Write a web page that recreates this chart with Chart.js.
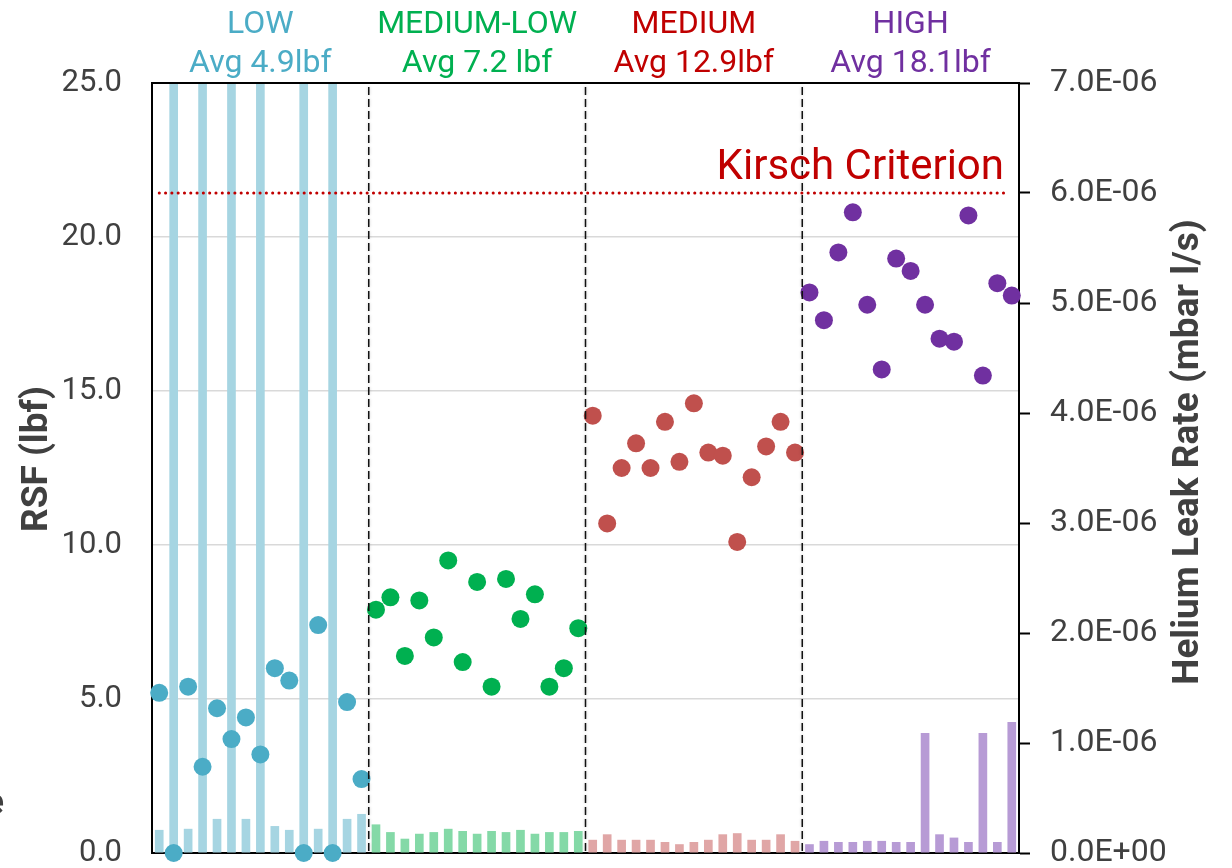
<!DOCTYPE html>
<html>
<head>
<meta charset="utf-8">
<script src="https://cdn.jsdelivr.net/npm/chart.js@4.4.1/dist/chart.umd.min.js"></script>
<style>
  html, body { margin: 0; padding: 0; background: #ffffff; }
  #wrap { width: 1232px; height: 868px; position: relative; }
</style>
</head>
<body>
<div id="wrap"><canvas id="c" width="1232" height="868"></canvas></div>
<script>
// Seal groups and their summary labels
const groupNames = ['LOW', 'MEDIUM-LOW', 'MEDIUM', 'HIGH'];
const groupAvgText = ['Avg 4.9lbf', 'Avg 7.2 lbf', 'Avg 12.9lbf', 'Avg 18.1lbf'];
const groupTextColors = ['#4BACC6', '#00B050', '#C00000', '#7030A0'];
const groupDotColors = ['#4BACC6', '#00B050', '#C0504D', '#7030A0'];
const groupBarColors = ['#A6D5E2', '#84D9A7', '#E0A6A6', '#B79BD5'];

// Residual seal force per sample (lbf)
const rsfLow     = [5.2, 0.0, 5.4, 2.8, 4.7, 3.7, 4.4, 3.2, 6.0, 5.6, 0.0, 7.4, 0.0, 4.9, 2.4];
const rsfMedLow  = [7.9, 8.3, 6.4, 8.2, 7.0, 9.5, 6.2, 8.8, 5.4, 8.9, 7.6, 8.4, 5.4, 6.0, 7.3];
const rsfMedium  = [14.2, 10.7, 12.5, 13.3, 12.5, 14.0, 12.7, 14.6, 13.0, 12.9, 10.1, 12.2, 13.2, 14.0, 13.0];
const rsfHigh    = [18.2, 17.3, 19.5, 20.8, 17.8, 15.7, 19.3, 18.9, 17.8, 16.7, 16.6, 20.7, 15.5, 18.5, 18.1];

// Helium leak rate per sample (mbar l/s); failed seals run far off scale
const leakLow    = [0.21e-6, 2.0e-5, 0.22e-6, 2.0e-5, 0.31e-6, 2.0e-5, 0.31e-6, 2.0e-5, 0.245e-6, 0.21e-6, 2.0e-5, 0.22e-6, 2.0e-5, 0.31e-6, 0.355e-6];
const leakMedLow = [0.26e-6, 0.19e-6, 0.13e-6, 0.175e-6, 0.19e-6, 0.22e-6, 0.20e-6, 0.175e-6, 0.20e-6, 0.19e-6, 0.21e-6, 0.175e-6, 0.19e-6, 0.19e-6, 0.20e-6];
const leakMedium = [0.12e-6, 0.17e-6, 0.12e-6, 0.12e-6, 0.12e-6, 0.10e-6, 0.08e-6, 0.10e-6, 0.12e-6, 0.17e-6, 0.18e-6, 0.12e-6, 0.12e-6, 0.17e-6, 0.11e-6];
const leakHigh   = [0.08e-6, 0.11e-6, 0.10e-6, 0.10e-6, 0.11e-6, 0.11e-6, 0.10e-6, 0.10e-6, 1.09e-6, 0.17e-6, 0.14e-6, 0.10e-6, 1.09e-6, 0.10e-6, 1.19e-6];

// Axis ranges
const rsfTicks = [0, 5, 10, 15, 20, 25];
const leakTicks = [0, 1e-6, 2e-6, 3e-6, 4e-6, 5e-6, 6e-6, 7e-6];
const kirschLimit = 6.0e-6;

const rsfGroups = [rsfLow, rsfMedLow, rsfMedium, rsfHigh];
const leakGroups = [leakLow, leakMedLow, leakMedium, leakHigh];
const rsfAll = rsfGroups.flat();
const leakAll = leakGroups.flat();
const sampleLabels = rsfAll.map((_, i) => String(i + 1));
const groupSize = rsfLow.length;
const dotColors = rsfGroups.flatMap((g, gi) => g.map(() => groupDotColors[gi]));
const barColors = leakGroups.flatMap((g, gi) => g.map(() => groupBarColors[gi]));

function sciLabel(v) {
  if (Math.abs(v) < 1e-12) return '0.0E+00';
  const e = Math.floor(Math.log10(Math.abs(v)) + 1e-6);
  const m = v / Math.pow(10, e);
  return m.toFixed(1) + 'E' + (e < 0 ? '-' : '+') + String(Math.abs(e)).padStart(2, '0');
}

const FONT = 'Roboto, "Open Sans", sans-serif';
const TEXT_GRAY = '#404040';

// Frame line under the data (bottom edge)
const frameUnder = {
  id: 'frameUnder',
  beforeDatasetsDraw(chart) {
    const { ctx, chartArea: a } = chart;
    ctx.save();
    ctx.strokeStyle = '#000';
    ctx.lineWidth = 2;
    ctx.beginPath();
    ctx.moveTo(a.left - 1, a.bottom);
    ctx.lineTo(a.right + 1, a.bottom);
    ctx.stroke();
    ctx.restore();
  }
};

// Group separators, top edge, Kirsch limit and text annotations
const overlay = {
  id: 'overlay',
  afterDatasetsDraw(chart) {
    const { ctx, chartArea: a, scales } = chart;
    const xs = scales.x, y1 = scales.y1;
    ctx.save();

    // top edge
    ctx.strokeStyle = '#000';
    ctx.lineWidth = 2;
    ctx.beginPath();
    ctx.moveTo(a.left - 1, a.top);
    ctx.lineTo(a.right + 1, a.top);
    ctx.stroke();

    // dashed separators between groups
    ctx.save();
    ctx.setLineDash([8, 4]);
    ctx.lineWidth = 1.5;
    ctx.strokeStyle = '#111';
    ctx.shadowColor = 'rgba(0,0,0,0.25)';
    ctx.shadowBlur = 3;
    for (let g = 1; g < groupNames.length; g++) {
      const i = g * groupSize;
      const x = (xs.getPixelForValue(i - 1) + xs.getPixelForValue(i)) / 2;
      ctx.beginPath();
      ctx.moveTo(x, a.top + 4);
      ctx.lineTo(x, a.bottom);
      ctx.stroke();
    }
    ctx.restore();

    // Kirsch criterion limit
    const yk = y1.getPixelForValue(kirschLimit);
    ctx.save();
    ctx.strokeStyle = '#C00000';
    ctx.lineWidth = 3;
    ctx.lineCap = 'round';
    ctx.setLineDash([0.1, 6.2]);
    ctx.beginPath();
    ctx.moveTo(xs.getPixelForValue(0), yk);
    ctx.lineTo(a.right - 14, yk);
    ctx.stroke();
    ctx.restore();

    ctx.fillStyle = '#C00000';
    ctx.font = '42px ' + FONT;
    ctx.textAlign = 'right';
    ctx.textBaseline = 'alphabetic';
    ctx.fillText('Kirsch Criterion', a.right - 15, yk - 14);

    // group headings
    ctx.font = '32px ' + FONT;
    ctx.textAlign = 'center';
    for (let g = 0; g < groupNames.length; g++) {
      const x = (xs.getPixelForValue(g * groupSize) + xs.getPixelForValue(g * groupSize + groupSize - 1)) / 2;
      ctx.fillStyle = groupTextColors[g];
      ctx.fillText(groupNames[g], x, 33);
      ctx.fillText(groupAvgText[g], x, 72);
    }

    // axis titles, both reading bottom to top
    ctx.fillStyle = TEXT_GRAY;
    ctx.font = 'bold 37px ' + FONT;
    ctx.textBaseline = 'middle';
    ctx.save();
    ctx.translate(38, 459);
    ctx.rotate(-Math.PI / 2);
    ctx.fillText('RSF (lbf)', 0, 0);
    ctx.restore();
    ctx.save();
    ctx.translate(1189, 452);
    ctx.rotate(-Math.PI / 2);
    ctx.fillText('Helium Leak Rate (mbar l/s)', 0, 0);
    ctx.restore();

    // clipped glyph at the left edge
    ctx.textAlign = 'right';
    ctx.textBaseline = 'alphabetic';
    ctx.fillText('e', 4, 814);

    ctx.restore();
  }
};

function pinPadding(scale) {
  scale.paddingTop = 0;
  scale.paddingBottom = 0;
}

new Chart(document.getElementById('c'), {
  data: {
    labels: sampleLabels,
    datasets: [
      {
        type: 'line',
        label: 'RSF (lbf)',
        data: rsfAll,
        yAxisID: 'y',
        showLine: false,
        pointRadius: 9,
        pointHoverRadius: 9,
        pointBorderWidth: 0,
        pointBackgroundColor: dotColors,
        pointBorderColor: dotColors,
        clip: false,
        order: 1
      },
      {
        type: 'bar',
        label: 'Helium Leak Rate (mbar l/s)',
        data: leakAll,
        yAxisID: 'y1',
        backgroundColor: barColors,
        borderWidth: 0,
        categoryPercentage: 1.0,
        barPercentage: 0.6,
        order: 2
      }
    ]
  },
  options: {
    responsive: false,
    animation: false,
    events: [],
    layout: { padding: { top: 83, bottom: 15, left: 0, right: 0 } },
    plugins: {
      legend: { display: false },
      tooltip: { enabled: false },
      title: { display: false }
    },
    scales: {
      x: {
        type: 'category',
        display: false,
        offset: true,
        grid: { display: false }
      },
      y: {
        position: 'left',
        min: rsfTicks[0],
        max: rsfTicks[rsfTicks.length - 1],
        afterBuildTicks(scale) { scale.ticks = rsfTicks.map(v => ({ value: v })); },
        afterFit(scale) { scale.width = 152; pinPadding(scale); },
        ticks: {
          padding: 30,
          color: TEXT_GRAY,
          font: { family: FONT, size: 31 },
          callback: v => Number(v).toFixed(1)
        },
        grid: {
          color: '#D9D9D9',
          lineWidth: 1.5,
          drawTicks: false
        },
        border: { display: true, color: '#000', width: 2 }
      },
      y1: {
        position: 'right',
        min: leakTicks[0],
        max: leakTicks[leakTicks.length - 1],
        afterBuildTicks(scale) { scale.ticks = leakTicks.map(v => ({ value: v })); },
        afterFit(scale) { scale.width = 213; pinPadding(scale); },
        ticks: {
          padding: 20,
          color: TEXT_GRAY,
          font: { family: FONT, size: 32 },
          callback: v => sciLabel(v)
        },
        grid: {
          drawOnChartArea: false,
          drawTicks: true,
          tickLength: 11,
          tickColor: '#000',
          tickWidth: 2
        },
        border: { display: true, color: '#000', width: 2 }
      }
    }
  },
  plugins: [frameUnder, overlay]
});
</script>
</body>
</html>
